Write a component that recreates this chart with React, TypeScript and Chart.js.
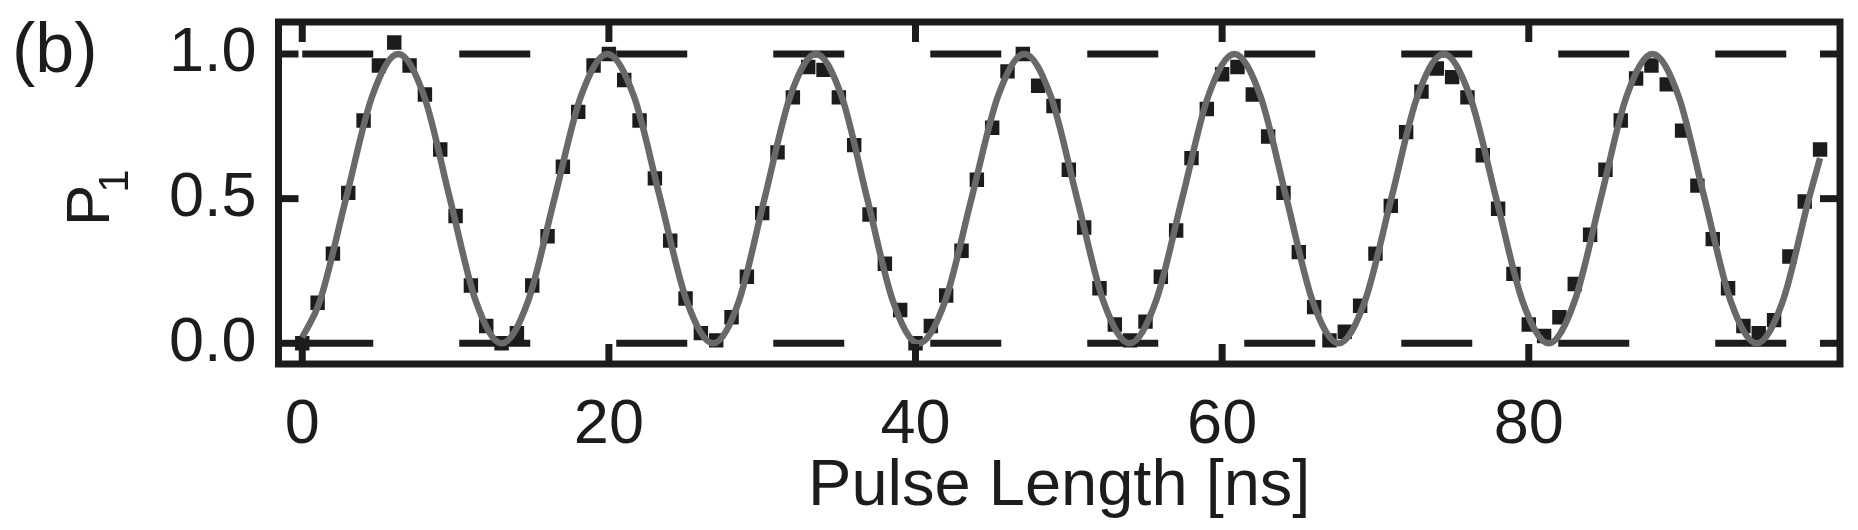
import React, { useEffect, useRef } from 'react';
import Chart from 'chart.js/auto';

// pulse length [ns] of each measured point
const pulseLength = [
  0, 1, 2, 3, 4, 5, 6, 7, 8, 9, 10, 11, 12, 13, 14, 15, 16, 17, 18, 19,
  20, 21, 22, 23, 24, 25, 26, 27, 28, 29, 30, 31, 32, 33, 34, 35, 36, 37, 38, 39,
  40, 41, 42, 43, 44, 45, 46, 47, 48, 49, 50, 51, 52, 53, 54, 55, 56, 57, 58, 59,
  60, 61, 62, 63, 64, 65, 66, 67, 68, 69, 70, 71, 72, 73, 74, 75, 76, 77, 78, 79,
  80, 81, 82, 83, 84, 85, 86, 87, 88, 89, 90, 91, 92, 93, 94, 95, 96, 97, 98, 99,
];

// measured P1
const measuredP1 = [
  0.0, 0.14, 0.31, 0.52, 0.77, 0.96, 1.04, 0.96, 0.86, 0.67, 0.44, 0.2, 0.06, 0.0, 0.035, 0.2, 0.37, 0.61, 0.8, 0.96,
  1.0, 0.91, 0.77, 0.57, 0.355, 0.155, 0.035, 0.01, 0.09, 0.23, 0.45, 0.66, 0.85, 0.955, 0.945, 0.85, 0.685, 0.445, 0.275, 0.115,
  0.0, 0.06, 0.165, 0.32, 0.565, 0.745, 0.94, 1.0, 0.89, 0.82, 0.6, 0.4, 0.19, 0.065, 0.01, 0.075, 0.23, 0.39, 0.64, 0.81,
  0.93, 0.955, 0.86, 0.715, 0.52, 0.315, 0.125, 0.01, 0.04, 0.13, 0.31, 0.475, 0.73, 0.87, 0.95, 0.92, 0.85, 0.65, 0.465, 0.24,
  0.065, 0.025, 0.09, 0.205, 0.375, 0.6, 0.77, 0.915, 0.96, 0.895, 0.735, 0.545, 0.36, 0.19, 0.06, 0.035, 0.08, 0.3, 0.49, 0.67,
];

// fitted curve (extrema and crossings)
const fitT = [
  0, 1.15, 2.85, 4.56, 6.26, 7.95, 9.63, 11.32, 13.0, 14.73, 16.45, 18.18, 19.9,
  21.63, 23.35, 25.08, 26.8, 28.48, 30.15, 31.83, 33.5, 35.18, 36.85, 38.53, 40.2,
  41.93, 43.65, 45.38, 47.1, 48.82, 50.54, 52.25, 53.97, 55.68, 57.39, 59.09, 60.8,
  62.5, 64.2, 65.9, 67.6, 69.31, 71.03, 72.74, 74.45, 76.16, 77.88, 79.59, 81.3,
  82.99, 84.69, 86.38, 88.07, 89.77, 91.47, 93.17, 94.87, 96.57, 98.27, 99,
];
const fitP = [
  0.02, 0.146, 0.5, 0.854, 1, 0.854, 0.5, 0.146, 0, 0.146, 0.5, 0.854, 1,
  0.854, 0.5, 0.146, 0, 0.146, 0.5, 0.854, 1, 0.854, 0.5, 0.146, 0,
  0.146, 0.5, 0.854, 1, 0.854, 0.5, 0.146, 0, 0.146, 0.5, 0.854, 1,
  0.854, 0.5, 0.146, 0, 0.146, 0.5, 0.854, 1, 0.854, 0.5, 0.146, 0,
  0.146, 0.5, 0.854, 1, 0.854, 0.5, 0.146, 0, 0.146, 0.5, 0.64,
];

const refLevels = [0, 1];
const xTicks = [0, 20, 40, 60, 80];
const yTicks = [0, 0.5, 1];

const X_MIN = -1.55;
const X_MAX = 100.3;
const Y_MIN = -0.0716;
const Y_MAX = 1.1106;

const ink = '#1c1c1c';
const fitGrey = '#696969';
const font = '"Liberation Sans", Arial, Helvetica, sans-serif';

const framePlugin = {
  id: 'frame',
  afterDraw(chart: any) {
    const { ctx, chartArea: a, scales } = chart;
    const x = scales.x;
    const y = scales.y;
    ctx.save();
    ctx.strokeStyle = ink;
    ctx.lineWidth = 7;
    ctx.lineCap = 'butt';
    ctx.strokeRect(a.left, a.top, a.right - a.left, a.bottom - a.top);
    const tl = 20;
    const seg = (x1: number, y1: number, x2: number, y2: number) => {
      ctx.beginPath();
      ctx.moveTo(x1, y1);
      ctx.lineTo(x2, y2);
      ctx.stroke();
    };
    xTicks.forEach((v) => {
      const px = x.getPixelForValue(v);
      seg(px, a.bottom, px, a.bottom - tl);
      seg(px, a.top, px, a.top + tl);
    });
    yTicks.forEach((v) => {
      const py = y.getPixelForValue(v);
      seg(a.left, py, a.left + tl, py);
      seg(a.right, py, a.right - tl, py);
    });

    // panel label
    ctx.fillStyle = ink;
    ctx.textAlign = 'left';
    ctx.textBaseline = 'alphabetic';
    ctx.font = `70px ${font}`;
    ctx.fillText('(b)', 12, 72);

    // y axis title P_1, rotated
    const cy = (a.top + a.bottom) / 2;
    ctx.translate(109, cy + 33);
    ctx.rotate(-Math.PI / 2);
    ctx.font = `62px ${font}`;
    ctx.fillText('P', 0, 0);
    const pw = ctx.measureText('P').width;
    ctx.font = `42px ${font}`;
    ctx.fillText('1', pw - 8, 19);
    ctx.restore();
  },
};

const App = () => {
  const canvasRef = useRef<HTMLCanvasElement>(null);

  useEffect(() => {
    document.body.style.margin = '0';
    if (!canvasRef.current) return;

    const chart = new Chart(canvasRef.current, {
      type: 'line',
      data: {
        datasets: [
          {
            label: 'fit',
            data: fitT.map((t, i) => ({ x: t, y: fitP[i] })),
            borderColor: fitGrey,
            borderWidth: 6.5,
            pointRadius: 0,
            cubicInterpolationMode: 'monotone',
            order: 0,
          },
          {
            label: 'data',
            data: pulseLength.map((t, i) => ({ x: t, y: measuredP1[i] })),
            showLine: false,
            pointStyle: 'rect',
            pointRadius: 10.2,
            pointBorderWidth: 0,
            pointBackgroundColor: ink,
            pointBorderColor: ink,
            order: 1,
          },
          ...refLevels.map((lvl) => ({
            label: `ref ${lvl}`,
            data: [
              { x: 0, y: lvl },
              { x: X_MAX, y: lvl },
            ],
            borderColor: ink,
            borderWidth: 7,
            borderDash: [71, 86],
            borderCapStyle: 'butt',
            pointRadius: 0,
            order: 2,
          })),
        ] as any,
      },
      options: {
        animation: false,
        responsive: false,
        devicePixelRatio: 1,
        events: [],
        layout: { padding: { left: 0, right: 18, top: 22, bottom: 0 } },
        plugins: {
          legend: { display: false },
          tooltip: { enabled: false },
        },
        scales: {
          x: {
            type: 'linear',
            min: X_MIN,
            max: X_MAX,
            grid: { display: false },
            border: { display: false },
            afterBuildTicks: (s: any) => {
              s.ticks = xTicks.map((v) => ({ value: v }));
            },
            afterFit: (s: any) => {
              s.height = 166;
              s.paddingLeft = 0;
              s.paddingRight = 0;
            },
            ticks: {
              color: ink,
              padding: 22,
              maxRotation: 0,
              autoSkip: false,
              font: { family: font, size: 63, lineHeight: 1 },
            },
            title: {
              display: true,
              text: 'Pulse Length [ns]',
              color: ink,
              padding: { top: 0, bottom: 10 },
              font: { family: font, size: 65, lineHeight: 1 },
            },
          },
          y: {
            type: 'linear',
            min: Y_MIN,
            max: Y_MAX,
            grid: { display: false },
            border: { display: false },
            afterBuildTicks: (s: any) => {
              s.ticks = yTicks.map((v) => ({ value: v }));
            },
            afterFit: (s: any) => {
              s.width = 278.5;
              s.paddingTop = 0;
              s.paddingBottom = 0;
            },
            ticks: {
              color: ink,
              padding: 14,
              autoSkip: false,
              callback: (v: any) => Number(v).toFixed(1),
              font: { family: font, size: 63, lineHeight: 1 },
            },
          },
        },
      },
      plugins: [framePlugin],
    });

    return () => {
      chart.destroy();
    };
  }, []);

  return (
    <div style={{ width: 1858, height: 530 }}>
      <canvas ref={canvasRef} width={1858} height={530} style={{ display: 'block' }} />
    </div>
  );
};

export default App;
